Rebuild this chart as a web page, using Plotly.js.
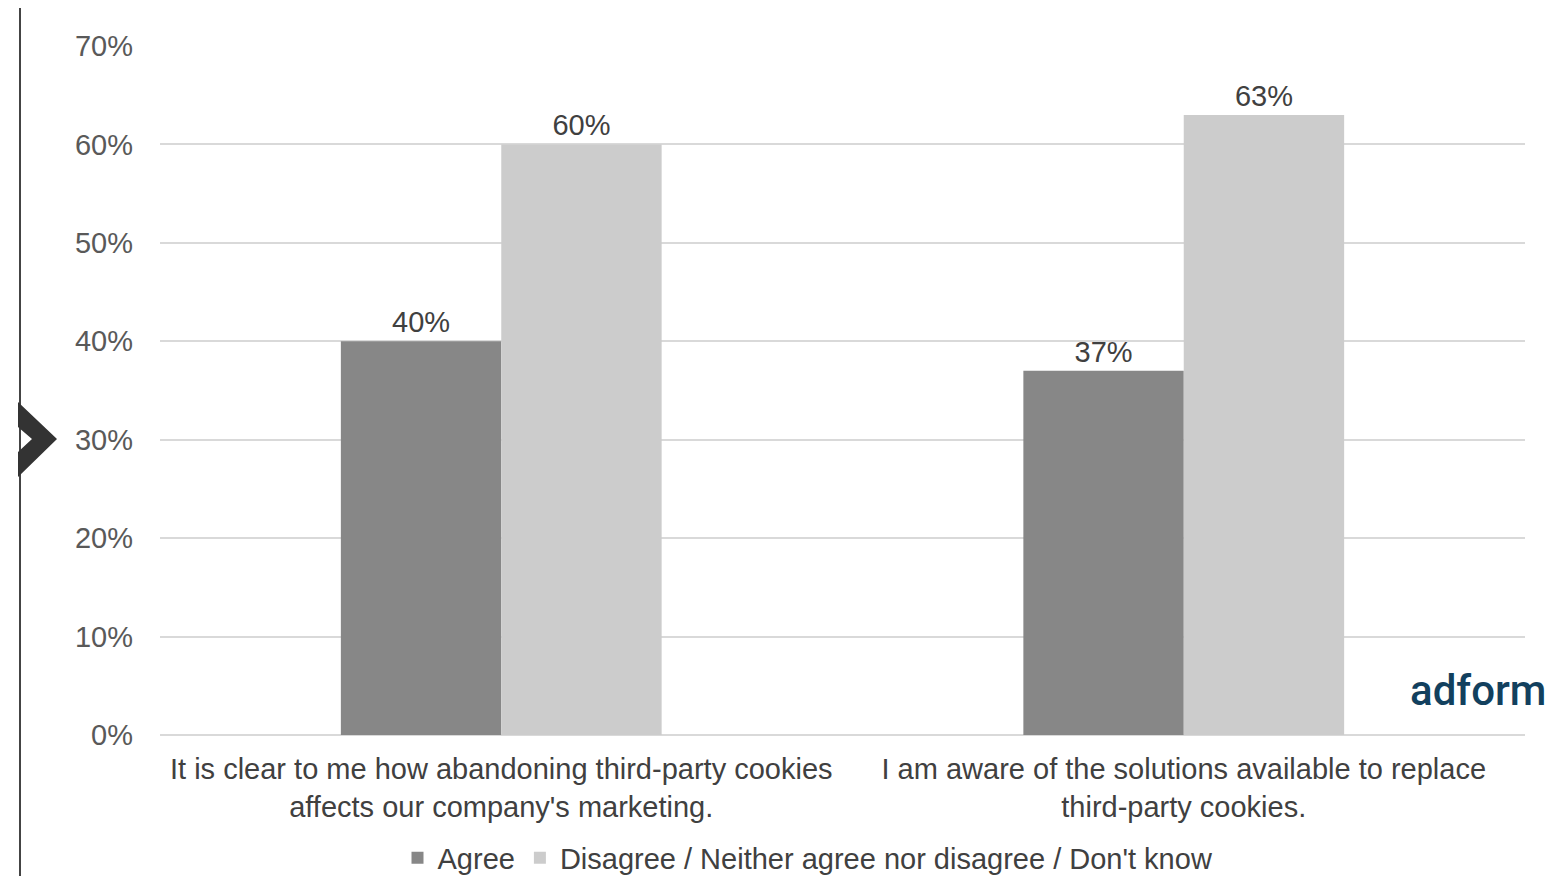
<!DOCTYPE html>
<html><head><meta charset="utf-8">
<script src="https://cdn.plot.ly/plotly-3.0.1.min.js"></script>
<style>html,body{margin:0;padding:0;background:#fff;}#chart{width:1561px;height:876px;}</style>
</head><body><div id="chart"></div>
<script>
const categories = [
  "It is clear to me how abandoning third-party cookies<br>affects our company's marketing.",
  "I am aware of the solutions available to replace<br>third-party cookies."
];
const seriesNames = ["Agree", "Disagree / Neither agree nor disagree / Don't know"];
const agree = [40, 37];
const disagree = [60, 63];
const yTicks = [0, 10, 20, 30, 40, 50, 60, 70];
const yTickLabels = ["0%", "10%", "20%", "30%", "40%", "50%", "60%", "70%"];

const W = 1561, H = 876, mL = 160, mR = 36, mT = 46, mB = 141;
const pw = W - mL - mR, ph = H - mT - mB;
const px = v => (v - mL) / pw;
const py = v => (H - mB - v) / ph;

const font = "Liberation Sans, Arial, sans-serif";
const traces = [
  {type: 'bar', name: seriesNames[0], x: categories, y: agree,
   marker: {color: '#878787'}, text: agree.map(v => v + '%'),
   textposition: 'outside', textfont: {family: font, size: 29, color: '#404040'}, cliponaxis: false},
  {type: 'bar', name: seriesNames[1], x: categories, y: disagree,
   marker: {color: '#cccccc'}, text: disagree.map(v => v + '%'),
   textposition: 'outside', textfont: {family: font, size: 29, color: '#404040'}, cliponaxis: false}
];

const layout = {
  width: W, height: H,
  margin: {l: mL, r: mR, t: mT, b: mB, autoexpand: false},
  paper_bgcolor: '#fff', plot_bgcolor: '#fff',
  barmode: 'group', bargap: 0.53, bargroupgap: 0,
  font: {family: font, color: '#595959', size: 29},
  showlegend: true,
  legend: {orientation: 'h', x: px(808), xanchor: 'center', y: py(858), yanchor: 'middle',
           font: {family: font, size: 29, color: '#404040'}, itemwidth: 30, traceorder: 'normal'},
  xaxis: {showgrid: false, showline: false, zeroline: false, ticks: '',
          tickfont: {family: font, size: 29, color: '#404040'}, ticklabelstandoff: 14},
  yaxis: {range: [0, 70], tickvals: yTicks, ticktext: yTickLabels, showgrid: true,
          gridcolor: '#d9d9d9', gridwidth: 2, zeroline: true, zerolinecolor: '#d9d9d9', zerolinewidth: 2,
          showline: false, ticks: '', ticklabelstandoff: 26,
          tickfont: {family: font, size: 29, color: '#595959'}},
  shapes: [
    {type: 'line', xref: 'paper', yref: 'paper', x0: px(20), x1: px(20), y0: py(8), y1: py(876),
     line: {color: '#444', width: 2}},
    {type: 'path', xref: 'paper', yref: 'paper', fillcolor: '#333', line: {width: 0},
     path: `M ${px(18)} ${py(402)} L ${px(57)} ${py(439)} L ${px(18)} ${py(477)} L ${px(18)} ${py(452)} L ${px(32)} ${py(439)} L ${px(18)} ${py(427)} Z`}
  ],
  annotations: [
    {xref: 'paper', yref: 'paper', x: px(1478), y: py(690), xanchor: 'center', yanchor: 'middle',
     text: 'adform', showarrow: false,
     font: {family: 'Roboto, sans-serif', size: 42, weight: 500, color: '#12405e'}}
  ]
};

Plotly.newPlot('chart', traces, layout, {displayModeBar: false, staticPlot: true});
</script></body></html>
